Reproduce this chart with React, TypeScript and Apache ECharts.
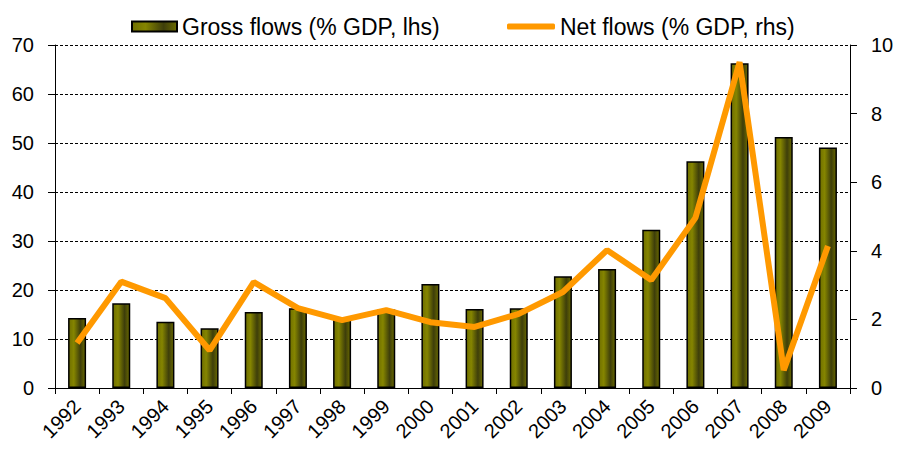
import React, { useEffect, useRef } from "react";
import * as echarts from "echarts";

const years = ["1992","1993","1994","1995","1996","1997","1998","1999","2000","2001","2002","2003","2004","2005","2006","2007","2008","2009"];
const grossFlows = [14.3, 17.3, 13.5, 12.2, 15.5, 16.3, 14.5, 16.0, 21.2, 16.1, 16.3, 22.8, 24.3, 32.3, 46.3, 66.3, 51.2, 49.1];
const netFlows = [1.31, 3.1, 2.62, 1.1, 3.09, 2.33, 1.98, 2.27, 1.92, 1.78, 2.16, 2.8, 4.02, 3.15, 4.96, 9.5, 0.52, 4.14];
const grossName = "Gross flows (% GDP, lhs)";
const netName = "Net flows (% GDP, rhs)";

const FONT = "'Liberation Sans', Arial, sans-serif";

export default function App() {
  const ref = useRef<HTMLDivElement>(null);
  useEffect(() => {
    if (!ref.current) return;
    const chart = echarts.init(ref.current, null, { renderer: "svg" });
    const barGrad = new echarts.graphic.LinearGradient(0, 0, 1, 0, [
      { offset: 0, color: "#6f6f00" },
      { offset: 0.3, color: "#858500" },
      { offset: 0.7, color: "#3e3e0a" },
      { offset: 1, color: "#6a6a00" },
    ]);
    const legendText = { fontFamily: FONT, fontSize: 23, color: "#000" };
    chart.setOption({
      animation: false,
      backgroundColor: "#fff",
      legend: [
        {
          left: 126,
          top: 10,
          itemWidth: 45,
          itemHeight: 10,
          textStyle: legendText,
          data: [{ name: grossName, icon: "rect" }],
        },
        {
          left: 502,
          top: 10,
          itemWidth: 48,
          itemHeight: 6,
          textStyle: legendText,
          data: [{ name: netName, icon: "roundRect" }],
        },
      ],
      grid: { left: 55, right: 47, top: 45, bottom: 65, containLabel: false },
      xAxis: {
        type: "category",
        data: years,
        boundaryGap: true,
        axisLine: { lineStyle: { color: "#000", width: 1 } },
        axisTick: { show: true, length: 6, lineStyle: { color: "#000" } },
        axisLabel: { rotate: 45, fontFamily: FONT, fontSize: 20, color: "#000", margin: 15 },
      },
      yAxis: [
        {
          type: "value",
          min: 0,
          max: 70,
          interval: 10,
          position: "left",
          axisLine: { show: true, lineStyle: { color: "#000" } },
          axisTick: { show: true, length: 7, lineStyle: { color: "#000" } },
          axisLabel: { fontFamily: FONT, fontSize: 20, color: "#000", margin: 21 },
          splitLine: { show: true, lineStyle: { color: "#000", type: [3, 2], width: 1 } },
        },
        {
          type: "value",
          min: 0,
          max: 10,
          interval: 2,
          position: "right",
          axisLine: { show: true, lineStyle: { color: "#000" } },
          axisTick: { show: true, length: 7, lineStyle: { color: "#000" } },
          axisLabel: { fontFamily: FONT, fontSize: 20, color: "#000", margin: 21 },
          splitLine: { show: false },
        },
      ],
      series: [
        {
          name: grossName,
          type: "bar",
          yAxisIndex: 0,
          data: grossFlows,
          barWidth: 18,
          itemStyle: { color: barGrad, borderColor: "#000", borderWidth: 1.5 },
        },
        {
          name: netName,
          type: "line",
          yAxisIndex: 1,
          data: netFlows,
          symbol: "none",
          lineStyle: { color: "#ff9900", width: 6 },
          itemStyle: { color: "#ff9900" },
        },
      ],
    });
    return () => chart.dispose();
  }, []);
  return <div ref={ref} style={{ width: 897, height: 453, position: "absolute", left: 0, top: 0 }} />;
}
